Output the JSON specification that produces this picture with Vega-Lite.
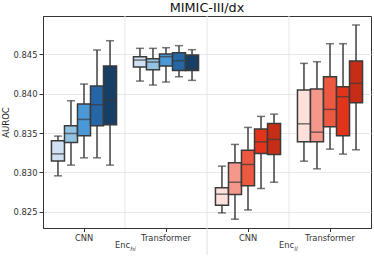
{
  "$schema": "https://vega.github.io/schema/vega-lite/v6.json",
  "width": 328,
  "height": 212,
  "autosize": {"type": "none"},
  "padding": {"left": 43, "top": 16, "right": 3, "bottom": 31},
  "title": {"text": "MIMIC-III/dx", "font": "DejaVu Sans", "fontSize": 12.8, "fontWeight": "normal", "color": "#111", "offset": 1.2},
  "config": {
    "font": "DejaVu Sans",
    "view": {"stroke": "#333", "strokeWidth": 1}
  },
  "datasets": {
    "boxes": [
      {"cat": "hi-CNN", "k": 0, "shade": "hi0", "lo": 0.82956, "q1": 0.83143, "med": 0.83235, "q3": 0.83401, "hi": 0.83461},
      {"cat": "hi-CNN", "k": 1, "shade": "hi1", "lo": 0.83092, "q1": 0.8338, "med": 0.83494, "q3": 0.83592, "hi": 0.8391},
      {"cat": "hi-CNN", "k": 2, "shade": "hi2", "lo": 0.83185, "q1": 0.83465, "med": 0.83673, "q3": 0.83868, "hi": 0.84122},
      {"cat": "hi-CNN", "k": 3, "shade": "hi3", "lo": 0.83185, "q1": 0.83592, "med": 0.83859, "q3": 0.84097, "hi": 0.84555},
      {"cat": "hi-CNN", "k": 4, "shade": "hi4", "lo": 0.83092, "q1": 0.83605, "med": 0.83923, "q3": 0.84351, "hi": 0.84673},
      {"cat": "hi-Transformer", "k": 0, "shade": "hi0", "lo": 0.8416, "q1": 0.84338, "med": 0.84427, "q3": 0.8447, "hi": 0.84576},
      {"cat": "hi-Transformer", "k": 1, "shade": "hi1", "lo": 0.8411, "q1": 0.84304, "med": 0.84402, "q3": 0.84444, "hi": 0.84576},
      {"cat": "hi-Transformer", "k": 2, "shade": "hi2", "lo": 0.84148, "q1": 0.84351, "med": 0.8447, "q3": 0.84504, "hi": 0.84584},
      {"cat": "hi-Transformer", "k": 3, "shade": "hi3", "lo": 0.84215, "q1": 0.84296, "med": 0.84419, "q3": 0.84521, "hi": 0.8461},
      {"cat": "hi-Transformer", "k": 4, "shade": "hi4", "lo": 0.84169, "q1": 0.84296, "med": 0.84321, "q3": 0.84491, "hi": 0.84559},
      {"cat": "ll-CNN", "k": 0, "shade": "ll0", "lo": 0.82485, "q1": 0.82583, "med": 0.82723, "q3": 0.82803, "hi": 0.83079},
      {"cat": "ll-CNN", "k": 1, "shade": "ll1", "lo": 0.82405, "q1": 0.82718, "med": 0.82875, "q3": 0.83121, "hi": 0.83355},
      {"cat": "ll-CNN", "k": 2, "shade": "ll2", "lo": 0.82523, "q1": 0.82829, "med": 0.831, "q3": 0.83282, "hi": 0.83571},
      {"cat": "ll-CNN", "k": 3, "shade": "ll3", "lo": 0.82795, "q1": 0.8324, "med": 0.83388, "q3": 0.8355, "hi": 0.83711},
      {"cat": "ll-CNN", "k": 4, "shade": "ll4", "lo": 0.82875, "q1": 0.83227, "med": 0.83418, "q3": 0.83622, "hi": 0.8374},
      {"cat": "ll-Transformer", "k": 0, "shade": "ll0", "lo": 0.83142, "q1": 0.83388, "med": 0.83617, "q3": 0.84046, "hi": 0.84385},
      {"cat": "ll-Transformer", "k": 1, "shade": "ll1", "lo": 0.83045, "q1": 0.83388, "med": 0.83511, "q3": 0.84059, "hi": 0.84406},
      {"cat": "ll-Transformer", "k": 2, "shade": "ll2", "lo": 0.83295, "q1": 0.83579, "med": 0.838, "q3": 0.84215, "hi": 0.84635},
      {"cat": "ll-Transformer", "k": 3, "shade": "ll3", "lo": 0.83232, "q1": 0.83465, "med": 0.83961, "q3": 0.84088, "hi": 0.84635},
      {"cat": "ll-Transformer", "k": 4, "shade": "ll4", "lo": 0.83287, "q1": 0.83885, "med": 0.84131, "q3": 0.84415, "hi": 0.84873}
    ],
    "dividers": [
      {"cat": "hi-Transformer"},
      {"cat": "ll-CNN"},
      {"cat": "ll-Transformer"}
    ],
    "groups": [
      {"cat": "hi-Transformer", "main": "Enc", "sub": "hi"},
      {"cat": "ll-Transformer", "main": "Enc", "sub": "ll"}
    ]
  },
  "data": {"name": "boxes"},
  "encoding": {
    "x": {
      "field": "cat", "type": "nominal",
      "sort": ["hi-CNN", "hi-Transformer", "ll-CNN", "ll-Transformer"],
      "scale": {"domain": ["hi-CNN", "hi-Transformer", "ll-CNN", "ll-Transformer"], "paddingInner": 0, "paddingOuter": 0},
      "axis": {
        "title": null,
        "labelAngle": 0,
        "labelExpr": "indexof(datum.value, 'CNN') >= 0 ? 'CNN' : 'Transformer'",
        "labelFontSize": 8.3,
        "labelColor": "#333",
        "labelPadding": 2,
        "tickSize": 3.5,
        "tickColor": "#333",
        "domainColor": "#333",
        "grid": false
      }
    }
  },
  "layer": [
    {
      "data": {"name": "dividers"},
      "mark": {"type": "rule", "color": "#e6e6e6", "strokeWidth": 1},
      "encoding": {"x": {"field": "cat", "type": "nominal", "bandPosition": 0}}
    },
    {
      "data": {"name": "dividers"},
      "transform": [{"filter": "datum.cat === 'll-CNN'"}],
      "mark": {"type": "rule", "color": "#dedede", "strokeWidth": 1, "clip": false},
      "encoding": {
        "x": {"field": "cat", "type": "nominal", "bandPosition": 0},
        "y": {"datum": 0.82293},
        "y2": {"datum": 0.8195}
      }
    },
    {
      "mark": {"type": "rule", "color": "#3f3f3f", "strokeWidth": 1.5},
      "encoding": {
        "xOffset": {"field": "k", "type": "nominal", "scale": {"paddingInner": 0, "paddingOuter": 0.65}},
        "y": {
          "field": "lo", "type": "quantitative",
          "scale": {"domain": [0.82293, 0.84987], "nice": false, "zero": false},
          "axis": {
            "title": "AUROC", "titleFontSize": 8.5, "titleFontWeight": "normal", "titleColor": "#222", "titlePadding": 3,
            "values": [0.825, 0.83, 0.835, 0.84, 0.845], "format": ".3f",
            "labelFontSize": 8.4, "labelColor": "#333", "labelPadding": 2,
            "tickSize": 4, "tickColor": "#333", "domainColor": "#333",
            "grid": true, "gridColor": "#e8e8e8"
          }
        },
        "y2": {"field": "hi"}
      }
    },
    {
      "mark": {"type": "bar", "stroke": "#3a3a3a", "strokeWidth": 1.5},
      "encoding": {
        "xOffset": {"field": "k", "type": "nominal"},
        "y": {"field": "q1", "type": "quantitative"},
        "y2": {"field": "q3"},
        "fill": {
          "field": "shade", "type": "nominal", "legend": null,
          "scale": {
            "domain": ["hi0", "hi1", "hi2", "hi3", "hi4", "ll0", "ll1", "ll2", "ll3", "ll4"],
            "range": ["#cfe1f2", "#93c3e3", "#4b98d6", "#2466a6", "#173f66", "#fee0da", "#f5978a", "#ec5840", "#e2341c", "#c52d17"]
          }
        }
      }
    },
    {
      "mark": {"type": "tick", "color": "#3a3a3a", "thickness": 1.5, "size": 13, "orient": "horizontal"},
      "encoding": {
        "xOffset": {"field": "k", "type": "nominal"},
        "y": {"field": "med", "type": "quantitative"}
      }
    },
    {
      "mark": {"type": "tick", "color": "#3f3f3f", "thickness": 1.5, "size": 8, "orient": "horizontal"},
      "encoding": {
        "xOffset": {"field": "k", "type": "nominal"},
        "y": {"field": "lo", "type": "quantitative"}
      }
    },
    {
      "mark": {"type": "tick", "color": "#3f3f3f", "thickness": 1.5, "size": 8, "orient": "horizontal"},
      "encoding": {
        "xOffset": {"field": "k", "type": "nominal"},
        "y": {"field": "hi", "type": "quantitative"}
      }
    },
    {
      "data": {"name": "groups"},
      "mark": {"type": "text", "align": "left", "baseline": "middle", "fontSize": 8.3, "color": "#333", "dx": -10, "clip": false},
      "encoding": {
        "x": {"field": "cat", "type": "nominal", "bandPosition": 0},
        "y": {"datum": 0.8206},
        "text": {"field": "main"}
      }
    },
    {
      "data": {"name": "groups"},
      "mark": {"type": "text", "align": "left", "baseline": "middle", "fontSize": 6, "fontStyle": "italic", "color": "#333", "dx": 5.3, "dy": 2.5, "clip": false},
      "encoding": {
        "x": {"field": "cat", "type": "nominal", "bandPosition": 0},
        "y": {"datum": 0.8206},
        "text": {"field": "sub"}
      }
    }
  ]
}
